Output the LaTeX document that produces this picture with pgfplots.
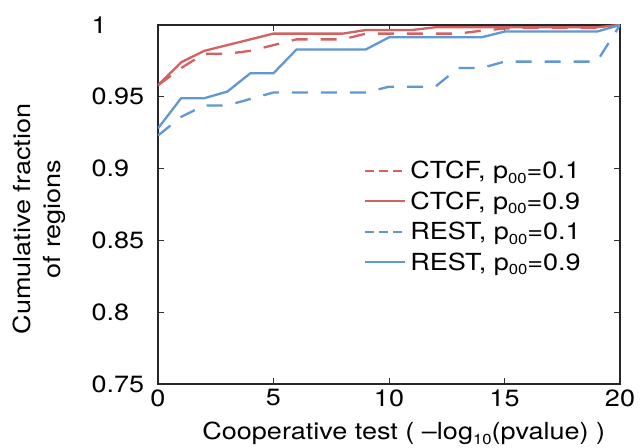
\documentclass[border=0pt]{standalone}
\usepackage{fontspec}
\setmainfont{TeX Gyre Heros}[FakeStretch=1.15]
\usepackage{pgfplots}
\pgfplotsset{compat=1.18}
\definecolor{cred}{RGB}{213,96,96}
\definecolor{cblue}{RGB}{95,152,210}
\newcommand{\bigf}{\fontsize{23.5}{30}\selectfont}
\newcommand{\sub}[1]{\raisebox{-4.5pt}{\fontsize{14.5}{14.5}\selectfont #1}}
\begin{document}
\begin{tikzpicture}
\begin{axis}[
  scale only axis, width=462pt, height=359pt,
  xmin=0, xmax=20, ymin=0.75, ymax=1,
  xtick={0,5,10,15,20},
  ytick={0.75,0.8,0.85,0.9,0.95,1},
  yticklabels={0.75,0.8,0.85,0.9,0.95,1},
  /pgf/number format/assume math mode=true,
  tick align=inside, major tick length=6pt,
  axis line style={line width=1.2pt, black!85},
  tick style={line width=1pt, black!80},
  tick label style={font=\bigf},
  yticklabel style={anchor=west, xshift=-70pt},
  xticklabel style={yshift=-2pt},
  label style={font=\bigf},
  xlabel={Cooperative test ( –log\sub{10}(pvalue) )},
  xlabel style={at={(axis description cs:0.532,0)}, anchor=base, yshift=-56pt},
  ylabel={Cumulative fraction\\of regions},
  ylabel style={align=center, at={(axis description cs:-0.258,0.46)}, anchor=center, rotate=0},
  legend style={draw=none, fill=none, at={(axis description cs:0.446,0.627)}, anchor=north west, font=\bigf, inner sep=0pt, row sep=7.5pt, column sep=2pt},
  legend cell align=left,
  legend image code/.code={\draw[#1] (0pt,0pt) -- (40pt,0pt);},
]
\addlegendimage{cred, line width=2pt, dash pattern=on 9pt off 5pt}
\addlegendentry{CTCF, p\sub{00}=0.1}
\addlegendimage{cred, line width=2pt}
\addlegendentry{CTCF, p\sub{00}=0.9}
\addlegendimage{cblue, line width=2pt, dash pattern=on 9pt off 5pt}
\addlegendentry{REST, p\sub{00}=0.1}
\addlegendimage{cblue, line width=2pt}
\addlegendentry{REST, p\sub{00}=0.9}

% CTCF p00=0.1
\addplot[forget plot, cred, line width=2.3pt, dash pattern=on 16pt off 13pt] coordinates {
(0,0.958) (1,0.970) (2,0.980) (3,0.980) (4,0.982) (5,0.986) (6,0.990) (7,0.990) (8,0.990)
(9,0.994) (10,0.994) (11,0.994) (12,0.994) (13,0.994) (14,0.996) (15,0.9975) (16,0.998)
(17,0.998) (18,0.998) (19,0.998) (20,1.0)};
% CTCF p00=0.9
\addplot[forget plot, cred, line width=2.3pt] coordinates {
(0,0.958) (1,0.974) (2,0.982) (5,0.994) (8,0.994) (9,0.9965) (11,0.9965) (12,0.9984)
(19,0.9984) (20,1.0)};
% REST p00=0.1
\addplot[forget plot, cblue, line width=2.3pt, dash pattern=on 16pt off 13pt] coordinates {
(0,0.923) (1,0.936) (2,0.944) (3,0.944) (4,0.9485) (5,0.953) (6,0.953) (7,0.953) (8,0.953)
(9,0.953) (10,0.957) (11,0.957) (12,0.957) (13,0.970) (14,0.970) (15,0.9745) (16,0.9745)
(17,0.9745) (18,0.9745) (19,0.9745) (20,1.0)};
% REST p00=0.9
\addplot[forget plot, cblue, line width=2.3pt] coordinates {
(0,0.928) (1,0.949) (2,0.949) (3,0.9536) (4,0.9664) (5,0.9664) (6,0.983) (9,0.983)
(10,0.9914) (14,0.9914) (15,0.9954) (19,0.9954) (20,1.0)};
\end{axis}
\pgfresetboundingbox
\path[use as bounding box] ([shift={(-158pt,-64pt)}]current axis.south west) rectangle ([shift={(22pt,25pt)}]current axis.north east);
\end{tikzpicture}
\end{document}
